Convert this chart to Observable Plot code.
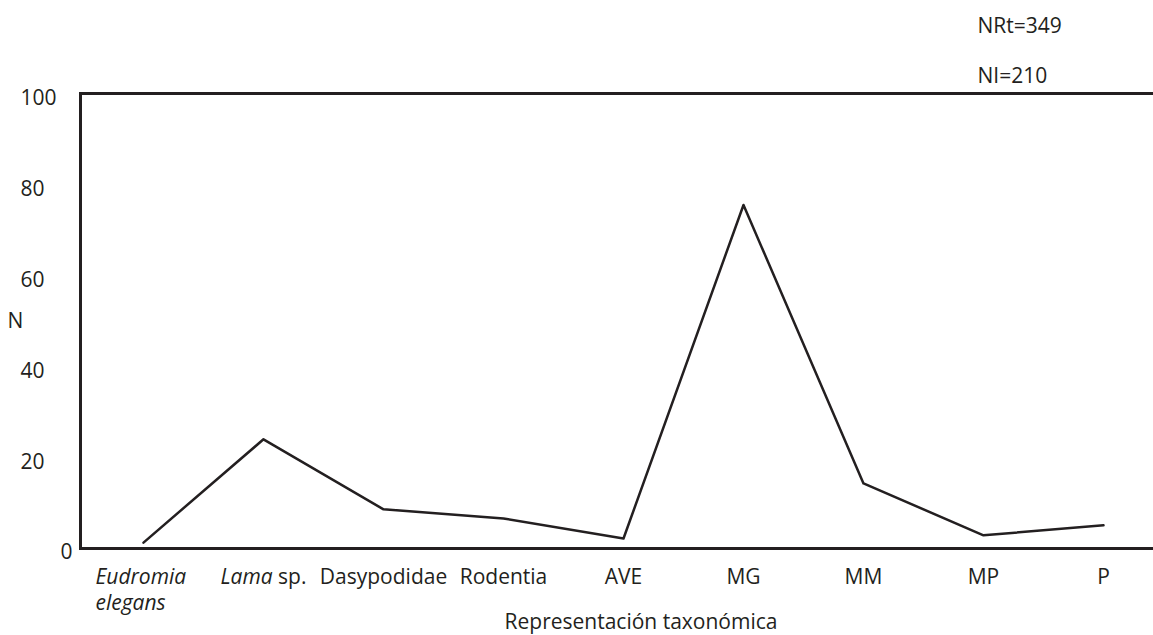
<!DOCTYPE html>
<html>
<head>
<meta charset="utf-8">
<script src="https://cdn.jsdelivr.net/npm/d3@7"></script>
<script src="https://cdn.jsdelivr.net/npm/@observablehq/plot@0.6"></script>
<style>
  html, body { margin: 0; padding: 0; background: #fff; }
</style>
</head>
<body>
<div id="chart"></div>
<script>
const categories = ["Eudromia elegans", "Lama sp.", "Dasypodidae", "Rodentia", "AVE", "MG", "MM", "MP", "P"];
const values = [1.3, 24.0, 8.6, 6.6, 2.2, 75.5, 14.3, 2.9, 5.1];
const yTicks = [20, 40, 60, 80, 100];
const yZeroTick = [0];
const noteNRt = ["NRt=349"];
const noteNI = ["NI=210"];
const yLabel = "N";
const xLabel = "Representación taxonómica";

const data = categories.map((c, i) => ({category: c, value: values[i]}));
const ink = "#231f20";
const fs = 21;

const chart = Plot.plot({
  width: 1153,
  height: 635,
  marginLeft: 80,
  marginRight: 0,
  marginTop: 93,
  marginBottom: 87,
  style: {fontFamily: "'Open Sans', sans-serif", fontSize: fs + "px", color: ink, background: "#fff"},
  x: {type: "point", domain: categories, range: [141, 1104], padding: 0},
  y: {domain: [0, 100]},
  marks: [
    Plot.axisX({tickSize: 0, tickPadding: 18, label: null, fontSize: fs, lineHeight: 1.2,
      tickFormat: d => d === "Eudromia elegans" ? "Eudromia\nelegans" : d}),
    Plot.axisY({ticks: yTicks, tickSize: 0, tickPadding: 0, textAnchor: "start", dx: -60, dy: 5, label: null, fontSize: fs}),
    Plot.axisY({ticks: yZeroTick, tickSize: 0, tickPadding: 0, textAnchor: "end", dx: -8, dy: 4, label: null, fontSize: fs}),
    Plot.frame({anchor: "left", stroke: ink, strokeWidth: 3}),
    Plot.ruleY([0, 100], {stroke: ink, strokeWidth: 3}),
    Plot.lineY(data, {x: "category", y: "value", stroke: ink, strokeWidth: 2.5}),
    Plot.text([yLabel], {frameAnchor: "left", text: d => d, dx: -65, textAnchor: "middle", fontSize: fs, fill: ink}),
    Plot.text([xLabel], {frameAnchor: "bottom", text: d => d, dx: 24, dy: 80, fontSize: fs, fill: ink}),
    Plot.text(noteNRt, {frameAnchor: "top-right", text: d => d, textAnchor: "start", dx: -176, dy: -75, fontSize: fs, fill: ink}),
    Plot.text(noteNI, {frameAnchor: "top-right", text: d => d, textAnchor: "start", dx: -176, dy: -25, fontSize: fs, fill: ink})
  ]
});

// style tick labels: italic taxon names
const xt = d3.select(chart).selectAll('g[aria-label="x-axis tick label"] text');
xt.each(function(d, i) {
  const t = d3.select(this);
  if (i === 0) {
    t.attr("font-style", "italic").attr("text-anchor", "start");
    t.attr("transform", t.attr("transform") + " translate(-48,0)");
  } else if (i === 1) {
    t.text(null);
    t.append("tspan").attr("font-style", "italic").text("Lama");
    t.append("tspan").text(" sp.");
  }
});

document.getElementById("chart").appendChild(chart);
</script>
</body>
</html>
